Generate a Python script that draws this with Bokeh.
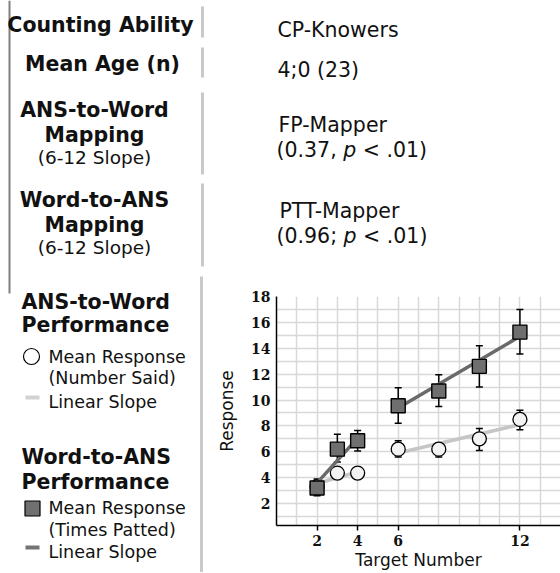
from bokeh.plotting import figure
from bokeh.models import Range1d, FixedTicker, Label, Whisker, ColumnDataSource, TeeHead
from bokeh.layouts import column, row
from bokeh.embed import file_html
from bokeh.resources import INLINE

# ---------------- data ----------------
target_numbers = [2, 3, 4, 6, 8, 10, 12]
# Word-to-ANS: mean number of times patted (squares)
patted_mean = [3.2, 6.2, 6.85, 9.55, 10.7, 12.6, 15.25]
patted_hi = [3.9, 7.35, 7.65, 10.95, 11.95, 14.2, 17.0]
patted_lo = [2.6, 5.2, 6.05, 8.2, 9.5, 11.0, 13.55]
# ANS-to-Word: mean number said (circles)
said_mean = [3.3, 4.35, 4.35, 6.2, 6.2, 7.0, 8.5]
said_hi = [3.6, 4.7, 4.7, 6.85, 6.7, 7.8, 9.2]
said_lo = [3.0, 4.0, 4.0, 5.6, 5.6, 6.1, 7.7]
# linear slope segments (2-4 and 6-12)
slope_xs = [[2, 4], [6, 12]]
patted_slope_ys = [[3.6, 7.05], [9.38, 14.92]]
said_slope_ys = [[3.55, 4.45], [5.9, 8.1]]

x_ticks = [2, 4, 6, 12]
y_ticks = [2, 4, 6, 8, 10, 12, 14, 16, 18]

row_headers = ["Counting Ability", "Mean Age (n)"]
group_label = "CP-Knowers"
age_label = "4;0 (23)"
ans_word_class = "FP-Mapper"
ans_word_slope = "0.37"
word_ans_class = "PTT-Mapper"
word_ans_slope = "0.96"

FONT = "DejaVu Sans"
TXT = "#111111"
BAR = "#c9c9c9"
EDGE = "#808080"

W_TOTAL = 560
H = 572          # total height
LEFT_W = 206     # left column width
TOP_H = 272      # height of the top-right value block
TEXT_DY = 6      # baseline correction for labels


def blank(w, h, x0=0, left=0):
    p = figure(width=w, height=h, x_range=Range1d(x0, x0 + w - left), y_range=Range1d(0, h),
               output_backend="svg", toolbar_location=None,
               x_axis_type=None, y_axis_type=None, min_border=0,
               min_border_left=left)
    p.outline_line_color = None
    p.background_fill_color = "white"
    p.border_fill_color = "white"
    return p


def txt(p, x, y, s, size, style="normal", align="left", font=FONT):
    p.add_layout(Label(x=x, y=y + TEXT_DY, text=s, text_font=font, text_font_size=f"{size}px",
                       text_font_style=style, text_align=align,
                       text_baseline="alphabetic", text_color=TXT))


HB = 20.5   # bold headings
RS = 20.5   # right column values
LS = 17.5   # legend entries
SS = 18.5   # "(6-12 Slope)"

# ---------------- left column: table headers + legend ----------------
A = blank(LEFT_W, H)
A.segment(x0=[9], y0=[H], x1=[9], y1=[H - 293], line_color=EDGE, line_width=2)
A.segment(x0=[202, 202, 202, 202, 201], y0=[H - 6, H - 47, H - 92, H - 183, H - 276],
          x1=[202, 202, 202, 202, 201], y1=[H - 37, H - 77, H - 174, H - 266, 0],
          line_color=BAR, line_width=3)

txt(A, 100, H - 30, row_headers[0], HB, "bold", "center")
txt(A, 102, H - 69, row_headers[1], HB, "bold", "center")
txt(A, 94, H - 115, "ANS-to-Word", HB, "bold", "center")
txt(A, 94, H - 140, "Mapping", HB, "bold", "center")
txt(A, 94, H - 163, "(6-12 Slope)", SS, "normal", "center")
txt(A, 94, H - 205, "Word-to-ANS", HB, "bold", "center")
txt(A, 94, H - 230, "Mapping", HB, "bold", "center")
txt(A, 94, H - 253, "(6-12 Slope)", SS, "normal", "center")

txt(A, 21, H - 307, "ANS-to-Word", HB, "bold")
txt(A, 21, H - 330, "Performance", HB, "bold")
A.scatter([31], [H - 356], marker="circle", size=16, fill_color="white",
          line_color="black", line_width=1.2)
txt(A, 48, H - 362, "Mean Response", LS)
txt(A, 48, H - 383, "(Number Said)", LS)
A.segment(x0=[25], y0=[H - 397], x1=[39], y1=[H - 397], line_color="#d2d2d2", line_width=4)
txt(A, 48, H - 407, "Linear Slope", LS)
txt(A, 21, H - 462, "Word-to-ANS", HB, "bold")
txt(A, 21, H - 487, "Performance", HB, "bold")
A.scatter([32], [H - 508], marker="square", size=15, fill_color="#707070",
          line_color="black", line_width=1.2)
txt(A, 48, H - 513, "Mean Response", LS)
txt(A, 48, H - 535, "(Times Patted)", LS)
A.segment(x0=[25], y0=[H - 547], x1=[39], y1=[H - 547], line_color="#747474", line_width=4)
txt(A, 48, H - 557, "Linear Slope", LS)

# ---------------- right column top: values ----------------
RW = W_TOTAL - LEFT_W
C = blank(RW, TOP_H, x0=276, left=70)
txt(C, 277, TOP_H - 35, group_label, RS)
txt(C, 277, TOP_H - 75, age_label, RS)
txt(C, 278, TOP_H - 130, ans_word_class, RS)
txt(C, 276, TOP_H - 155, f"({ans_word_slope},", RS)
txt(C, 276 + 3.252 * RS, TOP_H - 155, "p", RS, "italic")
txt(C, 276 + 4.205 * RS, TOP_H - 155, "< .01)", RS)
txt(C, 279, TOP_H - 216, word_ans_class, RS)
txt(C, 276, TOP_H - 241, f"({word_ans_slope};", RS)
txt(C, 276 + 3.271 * RS, TOP_H - 241, "p", RS, "italic")
txt(C, 276 + 4.224 * RS, TOP_H - 241, "< .01)", RS)

# ---------------- chart ----------------
ch = figure(width=RW, height=H - TOP_H, x_range=Range1d(0, 14.0), y_range=Range1d(0.3, 18),
            output_backend="svg", toolbar_location=None,
            min_border_left=70, min_border_right=0, min_border_top=24, min_border_bottom=0)
ch.outline_line_color = None
ch.background_fill_color = "white"
ch.border_fill_color = "white"

ch.xgrid.ticker = FixedTicker(ticks=list(range(0, 15)))
ch.ygrid.ticker = FixedTicker(ticks=list(range(0, 19)))
for g in (ch.xgrid, ch.ygrid):
    g.grid_line_color = "#d8d8d8"
    g.grid_line_width = 1.5

ch.xaxis.ticker = FixedTicker(ticks=x_ticks)
ch.yaxis.ticker = FixedTicker(ticks=y_ticks)
for ax in (ch.xaxis, ch.yaxis):
    ax.axis_line_color = "black"
    ax.axis_line_width = 1.5
    ax.major_tick_line_color = "black"
    ax.major_tick_line_width = 1.5
    ax.minor_tick_line_color = None
    ax.major_label_text_font = "DejaVu Serif"
    ax.major_label_text_font_style = "bold"
    ax.major_label_text_font_size = "14px"
    ax.major_label_text_color = TXT
    ax.axis_label_text_font = FONT
    ax.axis_label_text_font_style = "normal"
    ax.axis_label_text_color = TXT
ch.yaxis.major_tick_out = 0
ch.yaxis.major_tick_in = 0
ch.xaxis.major_tick_out = 5
ch.xaxis.major_tick_in = 0
ch.yaxis.axis_label = "Response"
ch.yaxis.axis_label_text_font_size = "17px"
ch.yaxis.major_label_standoff = 6
ch.yaxis.axis_label_standoff = 11
ch.xaxis.axis_label = "Target Number"
ch.xaxis.axis_label_text_font_size = "17px"
ch.xaxis.major_label_standoff = 4
ch.xaxis.axis_label_standoff = 1

said_src = ColumnDataSource(dict(x=target_numbers, m=said_mean, lo=said_lo, hi=said_hi))
pat_src = ColumnDataSource(dict(x=target_numbers, m=patted_mean, lo=patted_lo, hi=patted_hi))

for src in (said_src, pat_src):
    ch.add_layout(Whisker(base="x", upper="hi", lower="lo", source=src,
                          line_color="black", line_width=1.5,
                          upper_head=TeeHead(size=7, line_width=1.5, line_color="black"),
                          lower_head=TeeHead(size=7, line_width=1.5, line_color="black")))

ch.multi_line(xs=slope_xs, ys=said_slope_ys, line_color="#c6c6c6", line_width=3.5)
ch.scatter("x", "m", source=said_src, marker="circle", size=14, fill_color="#f3f3f3",
           line_color="black", line_width=1.3)
ch.multi_line(xs=slope_xs, ys=patted_slope_ys, line_color="#6a6a6a", line_width=3.5)
ch.scatter("x", "m", source=pat_src, marker="square", size=14, fill_color="#6f6f6f",
           line_color="black", line_width=1.4)

layout = row(A, column(C, ch))
open("out.html", "w").write(file_html(layout, INLINE))
